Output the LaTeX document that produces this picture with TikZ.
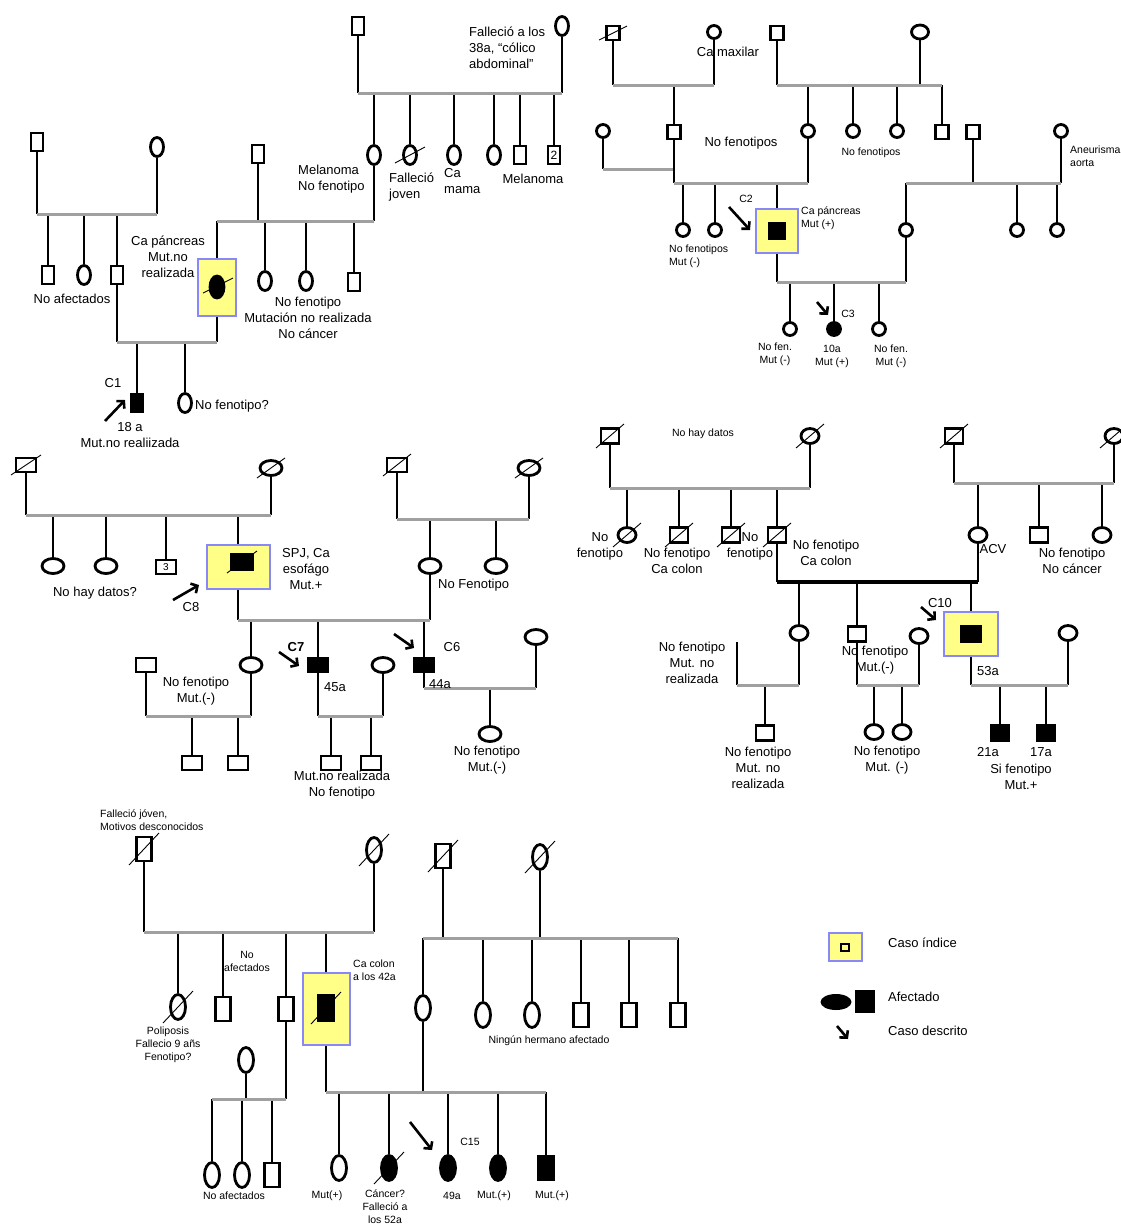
\documentclass[tikz,border=0pt]{standalone}
\usepackage{fontspec}
\setmainfont{Liberation Sans}
\usetikzlibrary{calc,shapes.geometric,arrows.meta}
\definecolor{amarillo}{HTML}{FFFF88}
\definecolor{azul}{HTML}{8888F8}
\definecolor{gris}{HTML}{A0A0A0}
\tikzset{
	ind/.style={draw, line width=2.8pt, fill=white, inner sep=0pt},
	sq/.style={ind, rectangle},
	ov/.style={ind, ellipse},
	afe/.style={fill=black},
	vl/.style={line width=2.8pt},
	sib/.style={line width=3pt, draw=gris},
	pareja/.style={line width=3.2pt, draw=black},
	raya/.style={line width=0.9pt},
	indice/.style={rectangle, draw=azul, fill=amarillo, line width=2pt, inner sep=0pt},
	txt/.style={font=\fontsize{13}{16}\selectfont, align=center, inner sep=0pt},
	txtp/.style={font=\fontsize{10.5}{13}\selectfont, align=center, inner sep=0pt},
	flecha/.style={-{Straight Barb[length=5pt,width=11pt]}, line width=2.6pt}
}
\newcommand{\muerto}[3]{\draw[raya] ($(#1)+(-#2,#3)$) -- ($(#1)+(#2,-#3)$);}

\begin{document}
\begin{tikzpicture}[x=1pt, y=-1pt]
			\useasboundingbox (0,0) rectangle (1121,1224);
			
			%%%%% FAMILIA C1 %%%%%
			\begin{scope}[sq/.append style={minimum width=12pt, minimum height=18pt}, ov/.append style={minimum width=13pt, minimum height=19pt}]
			\coordinate (la1) at (0,93);
			\coordinate (la2) at (0,214);
			\coordinate (la3) at (0,221);
			\coordinate (la4) at (0,342);
			\node[sq] (A1) at (358,26) {};
			\node[ov] (A2) at (562,26) {};
			\node[ov] (A3) at (374,155) {};
			\node[ov] (A4) at (410,155) {};
			\node[ov] (A5) at (454,155) {};
			\node[ov] (A6) at (494,155) {};
			\node[sq] (A7) at (520,155) {};
			\node[sq, font=\fontsize{12}{12}\selectfont] (A8) at (554,155) {2};
			\muerto{A4}{15}{8}
			\node[sq] (A9) at (258,154) {};
			\node[indice, minimum width=38pt, minimum height=57pt] (Ax) at (217,287) {};
			\node[ov, afe, minimum width=14pt, minimum height=22pt] (A10) at (217,287) {};
			\draw[raya] ($(A10)+(-14,6)$) -- ($(A10)+(16,-9)$);
			\node[ov] (A11) at (265,281) {};
			\node[ov] (A12) at (306,281) {};
			\node[sq] (A13) at (354,282) {};
			\node[sq] (A14) at (37,142) {};
			\node[ov] (A15) at (157,147) {};
			\node[sq] (A16) at (48,275) {};
			\node[ov] (A17) at (84,275) {};
			\node[sq] (A18) at (117,275) {};
			\node[sq, afe] (A19) at (137,403) {};
			\node[ov] (A20) at (185,403) {};
			
			\foreach \n in {A1,A2} \draw[vl] (\n.south) -- (\n |- la1);
			\foreach \n in {A3,A4,A5,A6,A7,A8} \draw[vl] (\n.north) -- (\n |- la1);
			\draw[sib] (A1 |- la1) -- (A2 |- la1);
			\foreach \n in {A3,A9} \draw[vl] (\n.south) -- (\n |- la3);
			\foreach \n in {Ax,A11,A12,A13} \draw[vl] (\n.north) -- (\n |- la3);
			\draw[sib] (Ax |- la3) -- (A3 |- la3);
			\foreach \n in {A14,A15} \draw[vl] (\n.south) -- (\n |- la2);
			\foreach \n in {A16,A17,A18} \draw[vl] (\n.north) -- (\n |- la2);
			\draw[sib] (A14 |- la2) -- (A15 |- la2);
			\foreach \n in {A18,Ax} \draw[vl] (\n.south) -- (\n |- la4);
			\foreach \n in {A19,A20} \draw[vl] (\n.north) -- (\n |- la4);
			\draw[sib] (A18 |- la4) -- (Ax |- la4);
			\end{scope}
			
			\node[txt, anchor=west, align=left] (ta1) at (469,48) {Falleció a los\\38a, “cólico\\abdominal”};
			\node[txt, anchor=west, align=left] (ta2) at (298,179) {Melanoma\\No fenotipo};
			\node[txt, anchor=west, align=left] (ta3) at (389,187) {Falleció\\joven};
			\node[txt, anchor=west, align=left] (ta4) at (444,181) {Ca\\mama};
			\node[txt] (ta5) at (533,179) {Melanoma};
			\node[txt] (ta6) at (168,257) {Ca páncreas\\Mut.no\\realizada};
			\node[txt] (ta7) at (72,299) {No afectados};
			\node[txt] (ta8) at (308,318) {No fenotipo\\Mutación no realizada\\No cáncer};
			\node[txt] (ta9) at (113,383) {C1};
			\node[txt, anchor=west] (ta10) at (195,406) {No fenotipo?};
			\node[txt] (ta11) at (130,435) {18 a\\Mut.no realiizada};
			\coordinate (fa) at (105,421);
			\draw[flecha] (fa) -- ++(20,-21);
			
			%%%%% FAMILIA C2 C3 %%%%%
			\begin{scope}[sq/.append style={minimum width=13pt, minimum height=14pt}, ov/.append style={minimum width=13pt, minimum height=13pt}]
			\coordinate (lb1) at (0,85);
			\coordinate (lb2) at (0,169);
			\coordinate (lb3) at (0,183);
			\coordinate (lb4) at (0,282);
			\node[sq] (B1) at (613,33) {};
			\node[ov] (B2) at (714,32) {};
			\node[sq] (B3) at (777,33) {};
			\node[ov, minimum width=17pt, minimum height=14pt] (B4) at (920,32) {};
			\muerto{B1}{14}{7}
			\node[sq] (B5) at (674,132) {};
			\node[ov] (B6) at (603,131) {};
			\node[ov] (B7) at (808,131) {};
			\node[ov] (B8) at (853,131) {};
			\node[ov] (B9) at (897,131) {};
			\node[sq] (B10) at (942,132) {};
			\node[sq] (B11) at (973,132) {};
			\node[ov] (B12) at (1061,131) {};
			\node[ov] (B13) at (683,230) {};
			\node[ov] (B14) at (715,230) {};
			\node[indice, minimum width=42pt, minimum height=44pt] (Bx) at (777,231) {};
			\node[sq, afe, minimum width=15pt, minimum height=15pt] (B15) at (777,231) {};
			\node[ov] (B16) at (906,230) {};
			\node[ov] (B17) at (1017,230) {};
			\node[ov] (B18) at (1057,230) {};
			\node[ov] (B19) at (790,329) {};
			\node[ov, afe] (B20) at (834,329) {};
			\node[ov] (B21) at (879,329) {};
			
			\foreach \n in {B1,B2,B3,B4} \draw[vl] (\n.south) -- (\n |- lb1);
			\foreach \n in {B5,B7,B8,B9,B10} \draw[vl] (\n.north) -- (\n |- lb1);
			\draw[sib] (B1 |- lb1) -- (B2 |- lb1);
			\draw[sib] (B3 |- lb1) -- (B10 |- lb1);
			\draw[vl] (B6.south) -- (B6 |- lb2);
			\draw[sib] (B6 |- lb2) -- (B5 |- lb2);
			\foreach \n in {B5,B7,B11,B12} \draw[vl] (\n.south) -- (\n |- lb3);
			\foreach \n in {B13,B14,Bx,B16,B17,B18} \draw[vl] (\n.north) -- (\n |- lb3);
			\draw[sib] (B5 |- lb3) -- (B7 |- lb3);
			\draw[sib] (B16 |- lb3) -- (B12 |- lb3);
			\foreach \n in {Bx,B16} \draw[vl] (\n.south) -- (\n |- lb4);
			\foreach \n in {B19,B20,B21} \draw[vl] (\n.north) -- (\n |- lb4);
			\draw[sib] (Bx |- lb4) -- (B16 |- lb4);
			\end{scope}
			
			\node[txt] (tb1) at (728,52) {Ca maxilar};
			\node[txt] (tb2) at (741,143) {No fenotipos};
			\node[txtp] (tb3) at (871,153) {No fenotipos};
			\node[txtp, anchor=west, align=left] (tb4) at (1070,156) {Aneurisma\\aorta};
			\node[txtp] (tb5) at (746,199) {C2};
			\node[txtp, anchor=west, align=left] (tb6) at (801,218) {Ca páncreas\\Mut (+)};
			\node[txtp, anchor=west, align=left] (tb7) at (669,256) {No fenotipos\\Mut (-)};
			\node[txtp] (tb8) at (775,354) {No fen.\\Mut (-)};
			\node[txtp] (tb9) at (832,356) {10a\\Mut (+)};
			\node[txtp] (tb10) at (891,356) {No fen.\\Mut (-)};
			\node[txtp] (tb11) at (848,314) {C3};
			\coordinate (fb1) at (729,207);
			\coordinate (fb2) at (817,302);
			\draw[flecha] (fb1) -- ++(21,23);
			\draw[flecha] (fb2) -- ++(11,13);
			
			%%%%% FAMILIA C6 C7 C8 %%%%%
			\begin{scope}[sq/.append style={minimum width=20pt, minimum height=14pt}, ov/.append style={minimum width=22pt, minimum height=15pt}]
			\coordinate (lc1) at (0,515);
			\coordinate (lc2) at (0,519);
			\coordinate (lc3) at (0,620);
			\coordinate (lc4) at (0,716);
			\coordinate (lc5) at (0,688);
			\node[sq] (C1) at (26,465) {};
			\node[ov] (C2) at (271,468) {};
			\node[sq] (C7) at (397,465) {};
			\node[ov] (C8) at (529,468) {};
			\muerto{C1}{15}{10}
			\muerto{C2}{14}{10}
			\muerto{C7}{14}{11}
			\muerto{C8}{14}{10}
			\node[ov] (C3) at (53,566) {};
			\node[ov] (C4) at (106,566) {};
			\node[sq] (C5) at (166,567) {3};
			\node[indice, minimum width=63pt, minimum height=44pt] (Cx) at (238,567) {};
			\node[sq, afe, minimum width=22pt, minimum height=15pt] (C6) at (242,562) {};
			\muerto{C6}{15}{11}
			\node[ov] (C9) at (430,566) {};
			\node[ov] (C10) at (496,566) {};
			\node[ov] (C11) at (251,665) {};
			\node[sq, afe] (C12) at (318,665) {};
			\node[sq, afe] (C13) at (424,665) {};
			\node[sq] (C14) at (146,665) {};
			\node[ov] (C15) at (383,665) {};
			\node[ov] (C16) at (536,637) {};
			\node[sq] (C17) at (192,763) {};
			\node[sq] (C18) at (238,763) {};
			\node[sq] (C19) at (331,763) {};
			\node[sq] (C20) at (371,763) {};
			\node[ov] (C21) at (490,734) {};
			
			\foreach \n in {C1,C2} \draw[vl] (\n.south) -- (\n |- lc1);
			\foreach \n in {C3,C4,C5,Cx} \draw[vl] (\n.north) -- (\n |- lc1);
			\draw[sib] (C1 |- lc1) -- (C2 |- lc1);
			\foreach \n in {C7,C8} \draw[vl] (\n.south) -- (\n |- lc2);
			\foreach \n in {C9,C10} \draw[vl] (\n.north) -- (\n |- lc2);
			\draw[sib] (C7 |- lc2) -- (C8 |- lc2);
			\foreach \n in {Cx,C9} \draw[vl] (\n.south) -- (\n |- lc3);
			\foreach \n in {C11,C12,C13} \draw[vl] (\n.north) -- (\n |- lc3);
			\draw[sib] (Cx |- lc3) -- (C9 |- lc3);
			\foreach \n in {C14,C11,C12,C15} \draw[vl] (\n.south) -- (\n |- lc4);
			\foreach \n in {C17,C18,C19,C20} \draw[vl] (\n.north) -- (\n |- lc4);
			\draw[sib] (C14 |- lc4) -- (C11 |- lc4);
			\draw[sib] (C12 |- lc4) -- (C15 |- lc4);
			\foreach \n in {C13,C16} \draw[vl] (\n.south) -- (\n |- lc5);
			\draw[vl] (C21.north) -- (C21 |- lc5);
			\draw[sib] (C13 |- lc5) -- (C16 |- lc5);
			\end{scope}
			
			\node[txt] (tc1) at (95,593) {No hay datos?};
			\node[txt] (tc2) at (306,569) {SPJ, Ca\\esofágo\\Mut.+};
			\node[txt] (tc3) at (191,607) {C8};
			\node[txt, anchor=west] (tc4) at (438,585) {No Fenotipo};
			\node[txt] (tc5) at (196,691) {No fenotipo\\Mut.(-)};
			\node[txt, font=\bfseries\fontsize{13}{16}\selectfont] (tc6) at (296,647) {C7};
			\node[txt] (tc7) at (335,687) {45a};
			\node[txt] (tc8) at (342,785) {Mut.no realizada\\No fenotipo};
			\node[txt] (tc9) at (452,647) {C6};
			\node[txt] (tc10) at (440,684) {44a};
			\node[txt] (tc11) at (487,760) {No fenotipo\\Mut.(-)};
			\coordinate (fc1) at (173,600);
			\coordinate (fc2) at (279,652);
			\coordinate (fc3) at (394,634);
			\draw[flecha] (fc1) -- ++(26,-15);
			\draw[flecha] (fc2) -- ++(20,14);
			\draw[flecha] (fc3) -- ++(20,14);
			
			%%%%% FAMILIA C10 %%%%%
			\begin{scope}[sq/.append style={minimum width=18pt, minimum height=15pt}, ov/.append style={minimum width=18pt, minimum height=15pt}]
			\coordinate (ld1) at (0,488);
			\coordinate (ld2) at (0,483);
			\coordinate (ld3) at (0,582);
			\coordinate (ld4) at (0,685);
			\node[sq] (D1) at (610,436) {};
			\node[ov] (D2) at (810,436) {};
			\node[ov] (D3) at (627,535) {};
			\node[sq] (D4) at (679,535) {};
			\node[sq] (D5) at (731,535) {};
			\node[sq] (D6) at (777,535) {};
			\node[sq] (D7) at (954,436) {};
			\node[ov] (D8) at (1114,436) {};
			\foreach \n in {D1,D2,D3,D4,D5,D6,D7,D8} {\muerto{\n}{14}{12}}
			\node[ov] (D9) at (978,535) {};
			\node[sq] (D10) at (1039,535) {};
			\node[ov] (D11) at (1102,535) {};
			\node[ov] (D12) at (799,633) {};
			\node[sq] (D13) at (857,634) {};
			\node[indice, minimum width=54pt, minimum height=44pt] (Dx) at (971,634) {};
			\node[sq, afe, minimum width=20pt, minimum height=16pt] (D14) at (971,634) {};
			\node[ov] (D15) at (919,636) {};
			\node[ov] (D16) at (1068,633) {};
			\node[sq] (D17) at (765,733) {};
			\node[ov] (D18) at (874,732) {};
			\node[ov] (D19) at (902,732) {};
			\node[sq, afe] (D20) at (1000,733) {};
			\node[sq, afe] (D21) at (1046,733) {};
			\coordinate (Dc) at (737,642);
			
			\foreach \n in {D1,D2} \draw[vl] (\n.south) -- (\n |- ld1);
			\foreach \n in {D3,D4,D5,D6} \draw[vl] (\n.north) -- (\n |- ld1);
			\draw[sib] (D1 |- ld1) -- (D2 |- ld1);
			\foreach \n in {D7,D8} \draw[vl] (\n.south) -- (\n |- ld2);
			\foreach \n in {D9,D10,D11} \draw[vl] (\n.north) -- (\n |- ld2);
			\draw[sib] (D7 |- ld2) -- (D8 |- ld2);
			\foreach \n in {D6,D9} \draw[vl] (\n.south) -- (\n |- ld3);
			\foreach \n in {D12,D13,Dx} \draw[vl] (\n.north) -- (\n |- ld3);
			\draw[pareja] (D6 |- ld3) -- (D9 |- ld3);
			\draw[vl] (Dc) -- (Dc |- ld4);
			\foreach \n in {D12,D13,D15,Dx,D16} \draw[vl] (\n.south) -- (\n |- ld4);
			\foreach \n in {D17,D18,D19,D20,D21} \draw[vl] (\n.north) -- (\n |- ld4);
			\draw[sib] (Dc |- ld4) -- (D12 |- ld4);
			\draw[sib] (D13 |- ld4) -- (D15 |- ld4);
			\draw[sib] (Dx |- ld4) -- (D16 |- ld4);
			\end{scope}
			
			\node[txtp] (td1) at (703,434) {No hay datos};
			\node[txt] (td2) at (600,546) {No\\fenotipo};
			\node[txt] (td3) at (677,561) {No fenotipo\\Ca colon};
			\node[txt] (td4) at (750,546) {No\\fenotipo};
			\node[txt] (td5) at (826,553) {No fenotipo\\Ca colon};
			\node[txt] (td6) at (993,549) {ACV};
			\node[txt] (td7) at (1072,561) {No fenotipo\\No cáncer};
			\node[txt] (td8) at (940,603) {C10};
			\node[txt] (td9) at (988,671) {53a};
			\node[txt] (td10) at (692,663) {No fenotipo\\Mut. no\\realizada};
			\node[txt] (td11) at (875,660) {No fenotipo\\Mut.(-)};
			\node[txt] (td12) at (758,768) {No fenotipo\\Mut. no\\realizada};
			\node[txt] (td13) at (887,760) {No fenotipo\\Mut. (-)};
			\node[txt] (td14) at (988,752) {21a};
			\node[txt] (td15) at (1041,752) {17a};
			\node[txt] (td16) at (1021,777) {Si fenotipo\\Mut.+};
			\coordinate (fd) at (921,607);
			\draw[flecha] (fd) -- ++(15,13);
			
			%%%%% FAMILIA C15 %%%%%
			\begin{scope}[sq/.append style={minimum width=15pt, minimum height=24pt}, ov/.append style={minimum width=15pt, minimum height=25pt}]
			\coordinate (le1) at (0,932);
			\coordinate (le2) at (0,1099);
			\coordinate (le3) at (0,938);
			\coordinate (le4) at (0,1092);
			\node[sq] (E1) at (144,849) {};
			\node[ov] (E2) at (374,850) {};
			\node[ov] (E3) at (178,1007) {};
			\node[sq] (E4) at (223,1009) {};
			\node[sq] (E5) at (286,1009) {};
			\node[indice, minimum width=47pt, minimum height=72pt] (Ex) at (326,1009) {};
			\node[sq, afe, minimum width=16pt, minimum height=25pt] (E6) at (326,1008) {};
			\node[ov] (E7) at (246,1060) {};
			\node[ov] (E8) at (212,1175) {};
			\node[ov] (E9) at (242,1175) {};
			\node[sq] (E10) at (272,1175) {};
			\node[sq] (E11) at (443,856) {};
			\node[ov] (E12) at (540,857) {};
			\node[ov] (E13) at (423,1008) {};
			\node[ov] (E14) at (483,1015) {};
			\node[ov] (E15) at (532,1015) {};
			\node[sq] (E16) at (581,1015) {};
			\node[sq] (E17) at (629,1015) {};
			\node[sq] (E18) at (678,1015) {};
			\node[ov] (E19) at (339,1168) {};
			\node[ov, afe] (E20) at (389,1168) {};
			\node[ov, afe] (E21) at (448,1168) {};
			\node[ov, afe] (E22) at (498,1168) {};
			\node[sq, afe] (E23) at (546,1168) {};
			\foreach \n in {E1,E2,E3,E6,E11,E12,E20} {\muerto{\n}{15}{16}}
			
			\foreach \n in {E1,E2} \draw[vl] (\n.south) -- (\n |- le1);
			\foreach \n in {E3,E4,E5,Ex} \draw[vl] (\n.north) -- (\n |- le1);
			\draw[sib] (E1 |- le1) -- (E2 |- le1);
			\foreach \n in {E5,E7} \draw[vl] (\n.south) -- (\n |- le2);
			\foreach \n in {E8,E9,E10} \draw[vl] (\n.north) -- (\n |- le2);
			\draw[sib] (E8 |- le2) -- (E5 |- le2);
			\foreach \n in {E11,E12} \draw[vl] (\n.south) -- (\n |- le3);
			\foreach \n in {E13,E14,E15,E16,E17,E18} \draw[vl] (\n.north) -- (\n |- le3);
			\draw[sib] (E13 |- le3) -- (E18 |- le3);
			\foreach \n in {Ex,E13} \draw[vl] (\n.south) -- (\n |- le4);
			\foreach \n in {E19,E20,E21,E22,E23} \draw[vl] (\n.north) -- (\n |- le4);
			\draw[sib] (Ex |- le4) -- (E23 |- le4);
			\end{scope}
			
			\node[txtp, anchor=west, align=left] (te1) at (100,820) {Falleció jóven,\\Motivos desconocidos};
			\node[txtp] (te2) at (168,1045) {Poliposis\\Fallecio 9 añs\\Fenotipo?};
			\node[txtp] (te3) at (247,961) {No\\afectados};
			\node[txtp, anchor=west, align=left] (te4) at (353,970) {Ca colon\\a los 42a};
			\node[txtp] (te5) at (549,1041) {Ningún hermano afectado};
			\node[txtp] (te6) at (234,1196) {No afectados};
			\node[txtp] (te7) at (327,1196) {Mut(+)};
			\node[txtp, anchor=north] (te8) at (385,1190) {Cáncer?\\Falleció a\\los 52a};
			\node[txtp] (te9) at (452,1196) {49a};
			\node[txtp] (te10) at (494,1196) {Mut.(+)};
			\node[txtp] (te11) at (552,1196) {Mut.(+)};
			\node[txtp] (te12) at (470,1142) {C15};
			\coordinate (fe) at (410,1122);
			\draw[flecha] (fe) -- ++(22,28);
			
			%%%%% LEYENDA %%%%%
			\node[indice, minimum width=33pt, minimum height=28pt] (Lx) at (845,947) {};
			\node[rectangle, draw, line width=2pt, minimum width=8pt, minimum height=7pt, inner sep=0pt] (L1) at (845,947) {};
			\node[ellipse, afe, minimum width=31pt, minimum height=16pt, inner sep=0pt] (L2) at (836,1002) {};
			\node[rectangle, afe, minimum width=20pt, minimum height=23pt, inner sep=0pt] (L3) at (865,1001) {};
			\node[txt, anchor=west] (tl1) at (888,943) {Caso índice};
			\node[txt, anchor=west] (tl2) at (888,997) {Afectado};
			\node[txt, anchor=west] (tl3) at (888,1031) {Caso descrito};
			\coordinate (fl) at (837,1026);
			\draw[flecha] (fl) -- ++(11,13);
			
\end{tikzpicture}
\end{document}
